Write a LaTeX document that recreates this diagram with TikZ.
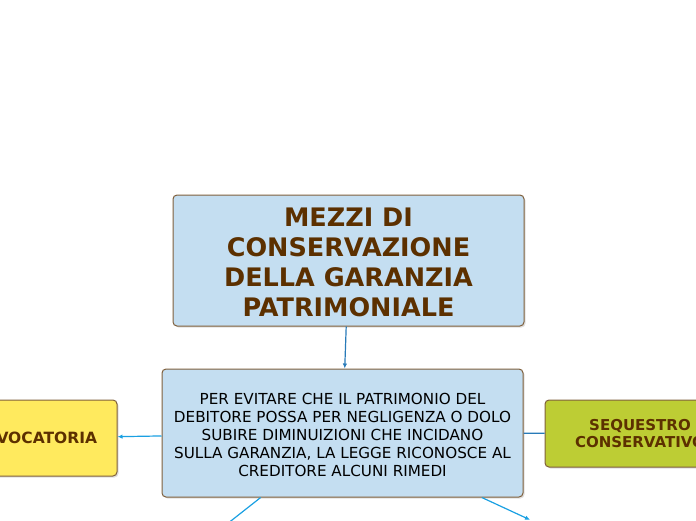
\documentclass[tikz,border=0pt]{standalone}
\usepackage{fontspec}
\setmainfont{DejaVu Sans}
\usetikzlibrary{arrows.meta,shadows}
\definecolor{boxblue}{RGB}{196,222,241}
\definecolor{boxborder}{RGB}{128,96,60}
\definecolor{titletext}{RGB}{92,48,0}
\definecolor{boxyellow}{RGB}{255,234,94}
\definecolor{boxgreen}{RGB}{189,205,52}
\definecolor{conndark}{RGB}{40,122,184}
\definecolor{connlight}{RGB}{26,160,226}
\tikzset{
  basebox/.style={draw=boxborder, line width=1pt, rounded corners=4pt, inner sep=0pt, align=center,
    drop shadow={opacity=0.25, shadow xshift=1.5pt, shadow yshift=-1.5pt}},
  titlebox/.style={basebox, fill=boxblue, text=titletext, font=\bfseries\fontsize{25.5}{30}\selectfont},
  midbox/.style={basebox, fill=boxblue, text=black, font=\fontsize{15.2}{18}\selectfont},
  yellowbox/.style={basebox, fill=boxyellow, text=titletext, font=\bfseries\fontsize{15.5}{17}\selectfont},
  greenbox/.style={basebox, fill=boxgreen, text=titletext, font=\bfseries\fontsize{15}{17}\selectfont},
  darkline/.style={draw=conndark, line width=1.2pt, -{Latex[length=5pt,width=4.5pt]}},
  lightline/.style={draw=connlight, line width=1.2pt, -{Latex[length=5pt,width=4.5pt]}},
  plainline/.style={draw=conndark, line width=1.2pt}
}
\begin{document}
\begin{tikzpicture}[x=1pt,y=-1pt]
\useasboundingbox (0,0) rectangle (696,520);
\clip (0,0) rectangle (696,520);
\node[titlebox, minimum width=351pt, minimum height=131pt] (title) at (348.5,260.5)
  {\rule{0pt}{23pt}MEZZI DI\\CONSERVAZIONE\\DELLA GARANZIA\\PATRIMONIALE};
\node[midbox, minimum width=361pt, minimum height=128pt] (mid) at (342.5,433)
  {\rule{0pt}{15.5pt}PER EVITARE CHE IL PATRIMONIO DEL\\DEBITORE POSSA PER NEGLIGENZA O DOLO\\SUBIRE DIMINUIZIONI CHE INCIDANO\\SULLA GARANZIA, LA LEGGE RICONOSCE AL\\CREDITORE ALCUNI RIMEDI};
\node[yellowbox, minimum width=163pt, minimum height=76pt] (left) at (35.5,438) {REVOCATORIA};
\node[greenbox, minimum width=190pt, minimum height=67pt] (right) at (640,433.5) {SEQUESTRO\\CONSERVATIVO};
\coordinate (bl) at (218.75,530.5);
\coordinate (br) at (530,519.8);
\draw[darkline] (title) -- (mid);
\draw[lightline] (mid) -- (left);
\draw[plainline] (mid) -- (right);
\draw[lightline, -] (mid) -- (bl);
\draw[lightline] (mid) -- (br);
\end{tikzpicture}
\end{document}
